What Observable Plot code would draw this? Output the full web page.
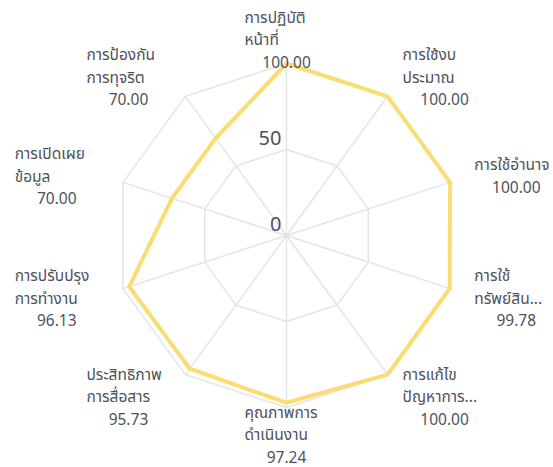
<!DOCTYPE html>
<html>
<head>
<meta charset="utf-8">
<script src="https://cdn.jsdelivr.net/npm/d3@7"></script>
<script src="https://cdn.jsdelivr.net/npm/@observablehq/plot@0.6"></script>
<style>
  html, body { margin: 0; padding: 0; background: #fff; }
  #chart svg { display: block; }
</style>
</head>
<body>
<div id="chart"></div>
<script>
// ---- data ----
const categories = [
  "การปฏิบัติหน้าที่",
  "การใช้งบประมาณ",
  "การใช้อำนาจ",
  "การใช้ทรัพย์สินของราชการ",
  "การแก้ไขปัญหาการทุจริต",
  "คุณภาพการดำเนินงาน",
  "ประสิทธิภาพการสื่อสาร",
  "การปรับปรุงการทำงาน",
  "การเปิดเผยข้อมูล",
  "การป้องกันการทุจริต"
];
const labelLines = [
  ["การปฏิบัติ", "หน้าที่"],
  ["การใช้งบ", "ประมาณ"],
  ["การใช้อำนาจ"],
  ["การใช้", "ทรัพย์สิน..."],
  ["การแก้ไข", "ปัญหาการ..."],
  ["คุณภาพการ", "ดำเนินงาน"],
  ["ประสิทธิภาพ", "การสื่อสาร"],
  ["การปรับปรุง", "การทำงาน"],
  ["การเปิดเผย", "ข้อมูล"],
  ["การป้องกัน", "การทุจริต"]
];
const values = [100.00, 100.00, 100.00, 99.78, 100.00, 97.24, 95.73, 96.13, 70.00, 70.00];
const rings = [50, 100];
const tickLabels = [0, 50];
const maxValue = 100;

// ---- geometry helpers ----
const W = 553, H = 467, cx = 286, cy = 235, pxPerUnit = 1.72;
const n = categories.length;
const ang = i => (i * 2 * Math.PI) / n;
const pt = (i, v) => ({x: v * Math.sin(ang(i)), y: v * Math.cos(ang(i))});

const ringData = rings.flatMap(r => categories.map((c, i) => ({ring: r, ...pt(i, r)})));
const spokes = categories.map((c, i) => ({x1: 0, y1: 0, x2: pt(i, maxValue).x, y2: pt(i, maxValue).y}));
const series = values.map((v, i) => ({name: categories[i], value: v, ...pt(i, v)}));

const labelR = maxValue * 1.148;
const blockW = 84; // label block width in px
const labels = categories.map((c, i) => {
  const s = Math.sin(ang(i));
  const offPx = Math.abs(s) < 0.01 ? -blockW / 2 : s > 0 ? 0 : -blockW;
  const p = pt(i, labelR);
  const lines = labelLines[i];
  return {
    xName: p.x + offPx / pxPerUnit,
    xValue: p.x + (offPx + blockW / 2) / pxPerUnit,
    y: p.y,
    nameText: lines.join("\n") + "\n",
    valueText: lines.map(() => "").join("\n") + "\n" + values[i].toFixed(2)
  };
});
const ticks = tickLabels.map(t => ({t, x: 0, y: t}));

const font = "'Noto Sans Thai', 'Noto Sans', 'Open Sans', sans-serif";

const chart = Plot.plot({
  width: W,
  height: H,
  margin: 0,
  style: {fontFamily: font, background: "#fff", overflow: "visible"},
  x: {domain: [-cx / pxPerUnit, (W - cx) / pxPerUnit], range: [0, W], axis: null},
  y: {domain: [-(H - cy) / pxPerUnit, cy / pxPerUnit], range: [H, 0], axis: null},
  marks: [
    Plot.link(spokes, {x1: "x1", y1: "y1", x2: "x2", y2: "y2", stroke: "#e4e4e4", strokeWidth: 1.5}),
    Plot.line(ringData, {x: "x", y: "y", z: "ring", curve: "linear-closed", stroke: "#e4e4e4", strokeWidth: 1.5}),
    Plot.line(series, {x: "x", y: "y", curve: "linear-closed", stroke: "#fbdc72", strokeWidth: 4, strokeLinejoin: "round"}),
    Plot.text(ticks, {x: "x", y: "y", text: d => String(d.t), textAnchor: "end", dx: -5, dy: -11, fontSize: 20, fill: "#4d525c"}),
    Plot.text(labels, {x: "xName", y: "y", text: "nameText", textAnchor: "start", lineAnchor: "middle", lineHeight: 1.45, fontSize: 15.5, fill: "#4d525c"}),
    Plot.text(labels, {x: "xValue", y: "y", text: "valueText", textAnchor: "middle", lineAnchor: "middle", lineHeight: 1.45, fontSize: 15.5, fill: "#4d525c"})
  ]
});
document.getElementById("chart").appendChild(chart);
</script>
</body>
</html>
